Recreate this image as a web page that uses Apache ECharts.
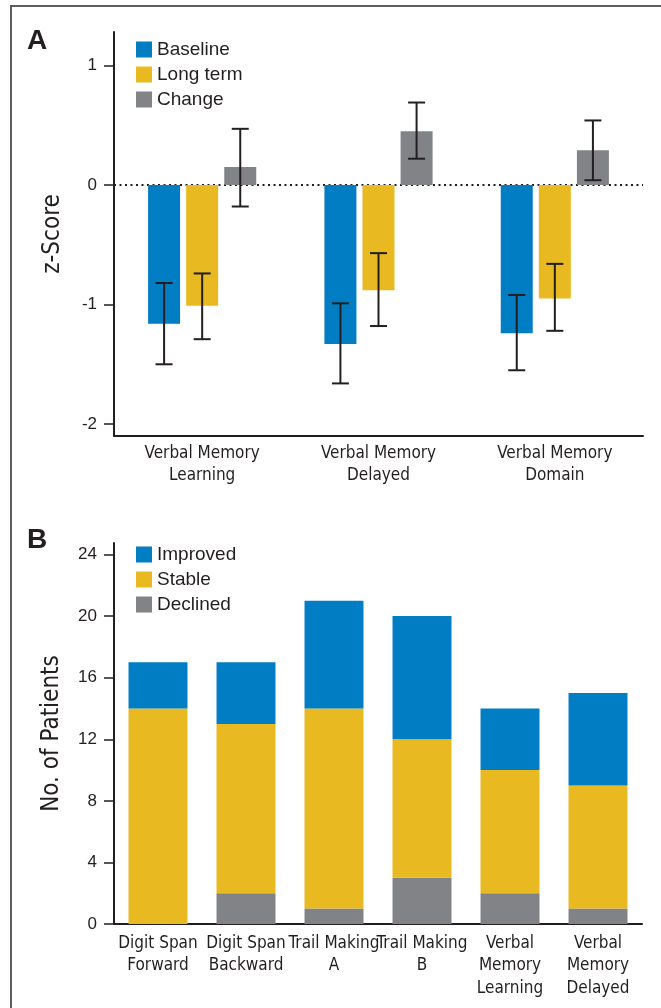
<!DOCTYPE html>
<html>
<head>
<meta charset="utf-8">
<style>
  html, body { margin: 0; padding: 0; background: #fff; }
  #chart { width: 661px; height: 1008px; }
</style>
<script src="https://cdn.jsdelivr.net/npm/echarts@6/dist/echarts.min.js"></script>
</head>
<body>
<div id="chart"></div>
<script>
// Panel A: z-scores with error bars
const domainsA = ['Verbal Memory\nLearning', 'Verbal Memory\nDelayed', 'Verbal Memory\nDomain'];
const baselineVals = [-1.16, -1.33, -1.24];
const baselineLow = [-1.50, -1.66, -1.55];
const baselineHigh = [-0.82, -0.99, -0.92];
const longTermVals = [-1.01, -0.88, -0.95];
const longTermLow = [-1.29, -1.18, -1.22];
const longTermHigh = [-0.74, -0.57, -0.66];
const changeVals = [0.15, 0.45, 0.29];
const changeLow = [-0.18, 0.22, 0.04];
const changeHigh = [0.47, 0.69, 0.54];
const ticksA = [-2, -1, 0, 1];

// Panel B: patient counts
const testsB = ['Digit Span\nForward', 'Digit Span\nBackward', 'Trail Making\nA', 'Trail Making\nB', 'Verbal\nMemory\nLearning', 'Verbal\nMemory\nDelayed'];
const improved = [3, 4, 7, 8, 4, 6];
const stable = [14, 11, 13, 9, 8, 8];
const declined = [0, 2, 1, 3, 2, 1];
const ticksB = [0, 4, 8, 12, 16, 20, 24];

const BLUE = '#007dc3';
const YELLOW = '#e8b921';
const GRAY = '#818386';
const INK = '#231f20';
const NARROW = "'Liberation Sans Narrow', 'DejaVu Sans Condensed', sans-serif";
const SANS = "'Liberation Sans', Arial, sans-serif";

const BAR_W = 32;
const BAR_GAP = 0.19;

const errorData = (low, high) => low.map((l, i) => [i, l, high[i]]);

const errorSeries = (name, low, high, k) => ({
  type: 'custom',
  name: name,
  xAxisIndex: 0,
  yAxisIndex: 0,
  z: 10,
  silent: true,
  data: errorData(low, high),
  encode: { x: 0, y: [1, 2] },
  renderItem: (params, api) => {
    const cx = api.coord([api.value(0), 0])[0] + (k - 1) * BAR_W * (1 + BAR_GAP);
    const yLow = api.coord([api.value(0), api.value(1)])[1];
    const yHigh = api.coord([api.value(0), api.value(2)])[1];
    const cap = 8.5;
    const style = { stroke: INK, lineWidth: 2 };
    return {
      type: 'group',
      children: [
        { type: 'line', shape: { x1: cx, y1: yLow, x2: cx, y2: yHigh }, style: style },
        { type: 'line', shape: { x1: cx - cap, y1: yLow, x2: cx + cap, y2: yLow }, style: style },
        { type: 'line', shape: { x1: cx - cap, y1: yHigh, x2: cx + cap, y2: yHigh }, style: style }
      ]
    };
  }
});

const axisLine = { show: true, onZero: false, lineStyle: { color: INK, width: 2 } };
const legendText = { fontFamily: SANS, fontSize: 19, color: INK };

const chart = echarts.init(document.getElementById('chart'));
chart.setOption({
  animation: false,
  backgroundColor: '#fff',
  grid: [
    { left: 114, top: 32, width: 529, height: 404 },
    { left: 114, top: 543, width: 528, height: 381 }
  ],
  legend: [
    {
      data: ['Baseline', 'Long term', 'Change'],
      orient: 'vertical', left: 136, top: 40, padding: 0,
      itemWidth: 16, itemHeight: 16, itemGap: 6, icon: 'rect',
      textStyle: legendText, selectedMode: false
    },
    {
      data: ['Improved', 'Stable', 'Declined'],
      orient: 'vertical', left: 136, top: 545, padding: 0,
      itemWidth: 16, itemHeight: 16, itemGap: 6, icon: 'rect',
      textStyle: legendText, selectedMode: false
    }
  ],
  xAxis: [
    {
      type: 'category', gridIndex: 0, data: domainsA,
      axisLine: axisLine, axisTick: { show: false },
      axisLabel: { interval: 0, margin: 7, fontFamily: NARROW, fontSize: 17, lineHeight: 22, color: INK }
    },
    {
      type: 'category', gridIndex: 1, data: testsB,
      axisLine: axisLine, axisTick: { show: false },
      axisLabel: { interval: 0, margin: 8, fontFamily: NARROW, fontSize: 17, lineHeight: 22.5, color: INK }
    }
  ],
  yAxis: [
    {
      type: 'value', gridIndex: 0, min: -2.1, max: 1.28,
      name: 'z-Score', nameLocation: 'middle', nameGap: 49,
      nameTextStyle: { fontFamily: NARROW, fontSize: 24, color: INK },
      axisLine: axisLine,
      axisTick: { show: true, length: 10, customValues: ticksA, lineStyle: { color: INK, width: 1.5 } },
      axisLabel: { customValues: ticksA, margin: 17, fontFamily: SANS, fontSize: 17, color: INK },
      splitLine: { show: false }
    },
    {
      type: 'value', gridIndex: 1, min: 0, max: 24.75,
      name: 'No. of Patients', nameLocation: 'middle', nameGap: 50,
      nameTextStyle: { fontFamily: NARROW, fontSize: 24, color: INK },
      axisLine: axisLine,
      axisTick: { show: true, length: 10, customValues: ticksB, lineStyle: { color: INK, width: 1.5 } },
      axisLabel: { customValues: ticksB, margin: 17, fontFamily: SANS, fontSize: 17, color: INK },
      splitLine: { show: false }
    }
  ],
  series: [
    {
      type: 'bar', name: 'Baseline', xAxisIndex: 0, yAxisIndex: 0,
      data: baselineVals, barWidth: BAR_W, barGap: (BAR_GAP * 100) + '%',
      itemStyle: { color: BLUE },
      markLine: {
        silent: true, symbol: 'none', z: 1,
        label: { show: false },
        lineStyle: { color: INK, width: 2, type: [2, 3.5] },
        data: [{ yAxis: 0 }]
      }
    },
    {
      type: 'bar', name: 'Long term', xAxisIndex: 0, yAxisIndex: 0,
      data: longTermVals, barWidth: BAR_W, barGap: (BAR_GAP * 100) + '%',
      itemStyle: { color: YELLOW }
    },
    {
      type: 'bar', name: 'Change', xAxisIndex: 0, yAxisIndex: 0,
      data: changeVals, barWidth: BAR_W, barGap: (BAR_GAP * 100) + '%',
      itemStyle: { color: GRAY }
    },
    errorSeries('Baseline err', baselineLow, baselineHigh, 0),
    errorSeries('Long term err', longTermLow, longTermHigh, 1),
    errorSeries('Change err', changeLow, changeHigh, 2),
    {
      type: 'bar', name: 'Declined', xAxisIndex: 1, yAxisIndex: 1, stack: 'b',
      data: declined, barCategoryGap: '33%', itemStyle: { color: GRAY }
    },
    {
      type: 'bar', name: 'Stable', xAxisIndex: 1, yAxisIndex: 1, stack: 'b',
      data: stable, barCategoryGap: '33%', itemStyle: { color: YELLOW }
    },
    {
      type: 'bar', name: 'Improved', xAxisIndex: 1, yAxisIndex: 1, stack: 'b',
      data: improved, barCategoryGap: '33%', itemStyle: { color: BLUE }
    }
  ],
  graphic: [
    { type: 'polyline', shape: { points: [[11, 1008], [11, 6], [661, 6]] }, style: { stroke: '#5e5e5e', lineWidth: 2, fill: null } },
    { type: 'text', left: 27, top: 27, style: { text: 'A', fontFamily: SANS, fontWeight: 'bold', fontSize: 28, fill: INK } },
    { type: 'text', left: 27, top: 526, style: { text: 'B', fontFamily: SANS, fontWeight: 'bold', fontSize: 28, fill: INK } }
  ]
});
</script>
</body>
</html>
